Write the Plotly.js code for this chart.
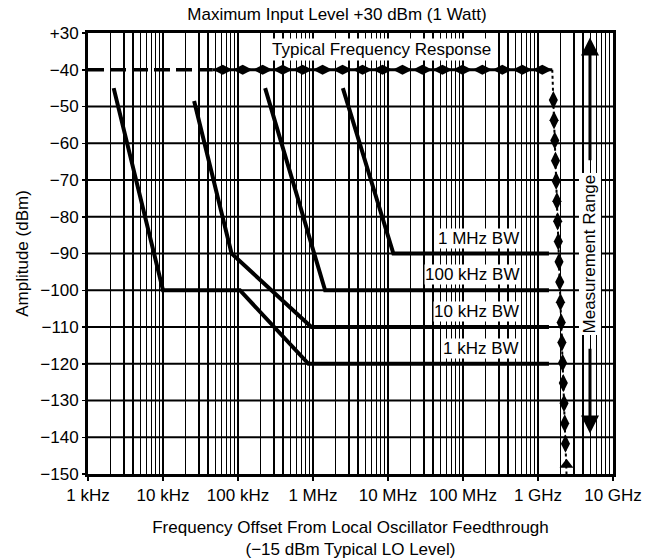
<!DOCTYPE html>
<html><head><meta charset="utf-8">
<script src="https://cdn.plot.ly/plotly-3.0.1.min.js"></script>
<style>html,body{margin:0;padding:0;background:#fff}#chart{width:648px;height:559px}</style>
</head><body><div id="chart"></div>
<script>
// ---- axis ticks ----
const xTickVals = [1e3, 1e4, 1e5, 1e6, 1e7, 1e8, 1e9, 1e10];
const xTickText = ["1 kHz", "10 kHz", "100 kHz", "1 MHz", "10 MHz", "100 MHz", "1 GHz", "10 GHz"];
const yTickVals = [-30, -40, -50, -60, -70, -80, -90, -100, -110, -120, -130, -140, -150];
const yTickText = ["+30", "\u221240", "\u221250", "\u221260", "\u221270", "\u221280", "\u221290", "\u2212100", "\u2212110", "\u2212120", "\u2212130", "\u2212140", "\u2212150"];

// ---- bandwidth curves (frequency offset in Hz, amplitude in dBm) ----
const bwLabels = ["1 kHz BW", "10 kHz BW", "100 kHz BW", "1 MHz BW"];
const bw1kFreq = [2.2e3, 1.0e4, 1.06e5, 8.7e5, 1.4e9];
const bw1kAmp = [-45, -100, -100, -120, -120];
const bw10kFreq = [2.6e4, 8.2e4, 9.5e5, 1.4e9];
const bw10kAmp = [-48.5, -90, -110, -110];
const bw100kFreq = [2.3e5, 1.45e6, 1.4e9];
const bw100kAmp = [-45, -100, -100];
const bw1MFreq = [2.5e6, 1.18e7, 1.4e9];
const bw1MAmp = [-45, -90, -90];
const bwFloor = [-120, -110, -100, -90];

// ---- typical frequency response ----
const respFreq = [1e3, 4.6e4, 1.55e9, 2.4e9];
const respAmp = [-40, -40, -40, -150];

// ---- grid decoration ----
const minorVals = [];
for (let d = 3; d < 10; d++) for (let k = 2; k <= 9; k++) minorVals.push(k * Math.pow(10, d));

const L = Math.log10;
// diamonds along a segment (decorative line style)
function beads(x0, y0, x1, y1, n) {
  const xs = [], ys = [];
  for (let i = 0; i < n; i++) {
    const t = (i + 0.5) / n;
    xs.push(Math.pow(10, L(x0) + t * (L(x1) - L(x0))));
    ys.push(y0 + t * (y1 - y0));
  }
  return {xs, ys};
}
const hB = beads(respFreq[1], respAmp[1], respFreq[2], respAmp[2], 17);
const vB = beads(respFreq[2], respAmp[2], respFreq[3], respAmp[3], 20);
const vBx = vB.xs.slice(1, -1), vBy = vB.ys.slice(1, -1);

const black = "#000";
const thick = {color: black, width: 4};
const traces = [
  {x: respFreq.slice(0, 2), y: respAmp.slice(0, 2), mode: "lines", line: {color: black, width: 3.5, dash: "16px,6px"}},
  {x: respFreq.slice(1, 3), y: respAmp.slice(1, 3), mode: "lines", line: {color: black, width: 3}},
  {x: hB.xs, y: hB.ys, mode: "markers", marker: {symbol: "diamond-wide", size: 14, color: black}},
  {x: respFreq.slice(2, 4), y: respAmp.slice(2, 4), mode: "lines", line: {color: black, width: 2, dash: "3px,3px"}},
  {x: vBx, y: vBy, mode: "markers", marker: {symbol: "diamond-tall", size: 13, color: black}},
  {x: [respFreq[3]], y: [respAmp[3] + 2.5], mode: "markers", marker: {symbol: "triangle-up", size: 12, color: black}},
  {x: bw1kFreq, y: bw1kAmp, mode: "lines", line: thick, name: bwLabels[0]},
  {x: bw10kFreq, y: bw10kAmp, mode: "lines", line: thick, name: bwLabels[1]},
  {x: bw100kFreq, y: bw100kAmp, mode: "lines", line: thick, name: bwLabels[2]},
  {x: bw1MFreq, y: bw1MAmp, mode: "lines", line: thick, name: bwLabels[3]}
];

const font = {family: "Liberation Sans, Arial, sans-serif", size: 17, color: black};
const annotations = bwLabels.map((t, i) => ({
  text: t, x: 8.76, y: bwFloor[i] + 4.2, xref: "x", yref: "y", xanchor: "right", yanchor: "middle",
  showarrow: false, bgcolor: "#fff", font: font, borderpad: 0
}));
annotations.push({text: "Typical Frequency Response", x: 6.907, y: -34.6, xref: "x", yref: "y",
  showarrow: false, bgcolor: "#fff", font: font, borderpad: 1});
annotations.push({text: "Measurement Range", x: 9.693, y: -90, xref: "x", yref: "y", textangle: -90,
  showarrow: false, bgcolor: "#fff", font: font, borderpad: 1});
annotations.push({text: "", x: 9.693, y: -31.2, ax: 9.693, ay: -65, xref: "x", yref: "y", axref: "x", ayref: "y",
  showarrow: true, arrowhead: 2, arrowsize: 1.2, arrowwidth: 3, arrowcolor: black});
annotations.push({text: "", x: 9.693, y: -139, ax: 9.693, ay: -115.5, xref: "x", yref: "y", axref: "x", ayref: "y",
  showarrow: true, arrowhead: 2, arrowsize: 1.2, arrowwidth: 3, arrowcolor: black});

const shapes = [];
for (let i = 2; i < yTickVals.length - 1; i++) {
  shapes.push({type: "line", xref: "paper", yref: "y", x0: 0, x1: 1, y0: yTickVals[i], y1: yTickVals[i],
    line: {color: black, width: 1.8}, layer: "below"});
}

const layout = {
  width: 648, height: 559,
  margin: {l: 88, r: 35, t: 33, b: 85},
  paper_bgcolor: "#fff", plot_bgcolor: "#fff",
  showlegend: false,
  font: font,
  title: {text: "Maximum Input Level +30 dBm (1 Watt)", font: font, x: 0.52, xanchor: "center", y: 0.975, yanchor: "middle"},
  xaxis: {
    type: "log", range: [3, 10], tickvals: xTickVals, ticktext: xTickText,
    showgrid: true, gridcolor: black, gridwidth: 2,
    minor: {tickvals: minorVals, showgrid: true, gridcolor: black, gridwidth: 1.5, ticks: ""},
    ticks: "outside", ticklen: 4, tickwidth: 1.5, tickcolor: black,
    showline: true, mirror: true, linecolor: black, linewidth: 3, zeroline: false,
    tickfont: font,
    title: {text: "Frequency Offset From Local Oscillator Feedthrough<br>(\u221215 dBm Typical LO Level)", font: font, standoff: 22},
    automargin: false
  },
  yaxis: {
    range: [-150, -30], tickvals: yTickVals, ticktext: yTickText,
    showgrid: false, zeroline: false,
    ticks: "outside", ticklen: 3, tickwidth: 1.5, tickcolor: black,
    showline: true, mirror: true, linecolor: black, linewidth: 3,
    tickfont: font,
    title: {text: "Amplitude (dBm)", font: font, standoff: 8},
    automargin: false
  },
  annotations: annotations,
  shapes: shapes
};
Plotly.newPlot("chart", traces, layout, {displayModeBar: false, staticPlot: true});
</script></body></html>
